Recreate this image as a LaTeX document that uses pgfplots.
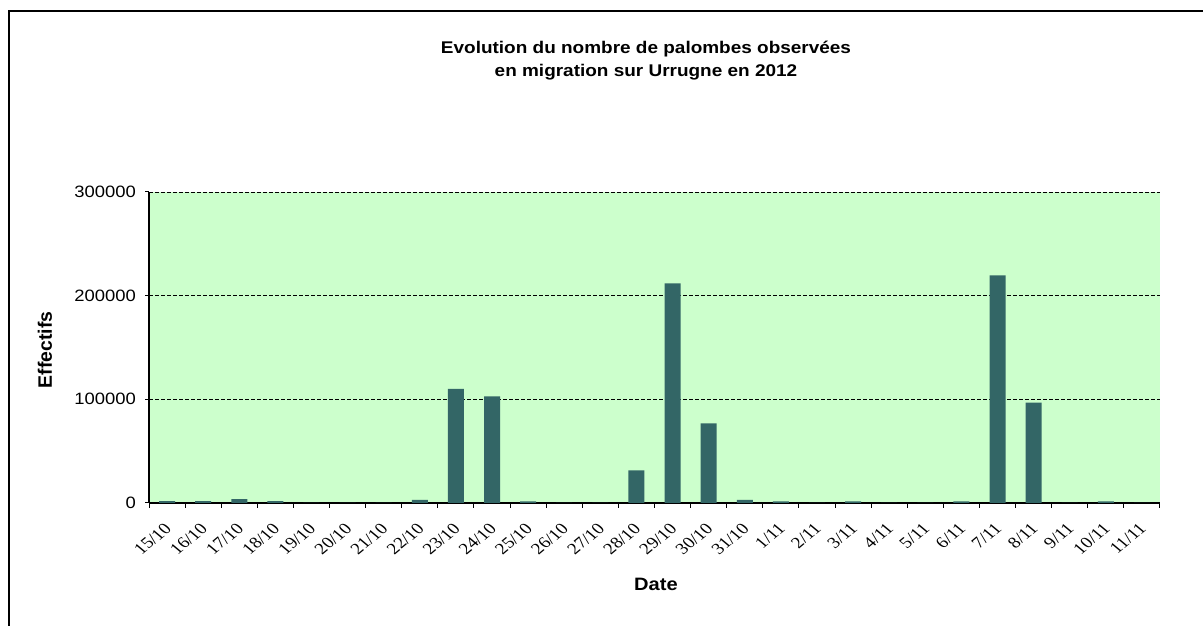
\documentclass[border=0pt]{standalone}
\usepackage{fontspec}
\setmainfont{Liberation Sans}
\newfontfamily\tnr{Liberation Serif}
\usepackage{pgfplots}
\pgfplotsset{compat=1.18}
\definecolor{barc}{HTML}{336666}
\definecolor{bgc}{HTML}{CCFFCC}

\begin{document}
\begin{tikzpicture}[x=1bp,y=1bp]
\useasboundingbox (0,0) rectangle (1203,626);
\draw[line width=1.3bp] (9,-5) -- (9,615) -- (1210,615);

% titles (the reference text is a little wider than tall)
\node[anchor=base, xscale=1.12, font=\bfseries\fontsize{17}{17}\selectfont] at (646,572) {Evolution du nombre de palombes observées};
\node[anchor=base, xscale=1.12, font=\bfseries\fontsize{17}{17}\selectfont] at (646,549) {en migration sur Urrugne en 2012};
\node[rotate=90, font=\bfseries\fontsize{19.5}{19.5}\selectfont] at (45,276) {Effectifs};
\node[anchor=base, xscale=1.12, font=\bfseries\fontsize{18}{18}\selectfont] at (656,35) {Date};

\begin{axis}[
  at={(149bp,123bp)}, anchor=south west,
  scale only axis, width=1011bp, height=311bp,
  xmin=-0.5, xmax=27.5, ymin=0, ymax=300000,
  axis x line*=bottom, axis y line*=left,
  axis line style={-, black, line width=1.5bp},
  axis background/.style={fill=bgc},
  ymajorgrids, grid style={black, line width=0.8bp, dash pattern=on 4bp off 2bp},
  ytick={0,100000,200000,300000},
  scaled y ticks=false,
  yticklabel={\pgfmathprintnumber[fixed,precision=0,1000 sep={},assume math mode=true]{\tick}},
  yticklabel style={font=\fontsize{16.5}{16.5}\selectfont, xscale=1.12, inner sep=0pt, xshift=-8bp},
  tick align=outside,
  major tick length=4bp,
  tick style={black, line width=1bp},
  xtick={0,...,27},
  xticklabels={15/10,16/10,17/10,18/10,19/10,20/10,21/10,22/10,23/10,24/10,25/10,26/10,27/10,28/10,29/10,30/10,31/10,1/11,2/11,3/11,4/11,5/11,6/11,7/11,8/11,9/11,10/11,11/11},
  major x tick style={draw=none},
  xticklabel style={font=\tnr\fontsize{16}{16}\selectfont, inner sep=0pt, xshift=1bp, yshift=-19bp, xscale=1.2, rotate=45, anchor=east},
  extra x ticks={-0.5,0.5,...,27.5},
  extra x tick style={xticklabel={}, major x tick style={draw=black, line width=1bp}, major tick length=5bp},
]
\addplot[ybar, fill=barc, draw=none, bar width=16bp] coordinates {
  (0,1900) (1,1800) (2,3800) (3,1700) (4,0) (5,0) (6,0) (7,2900)
  (8,110200) (9,102800) (10,1600) (11,0) (12,0) (13,31500)
  (14,211800) (15,76700) (16,3000) (17,1500) (18,0) (19,1500)
  (20,0) (21,0) (22,1500) (23,219500) (24,96800) (25,0) (26,1500) (27,0)
};
\end{axis}
\end{tikzpicture}
\end{document}
